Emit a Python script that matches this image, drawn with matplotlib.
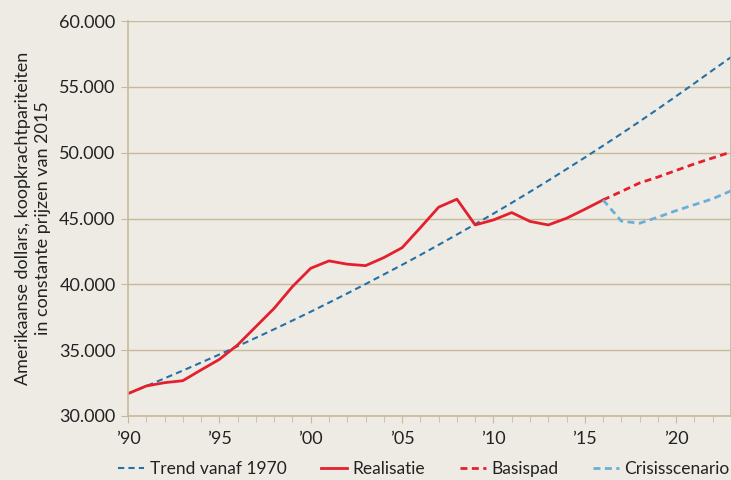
import matplotlib
matplotlib.use("Agg")
import matplotlib.pyplot as plt
from matplotlib.ticker import FuncFormatter, MultipleLocator

# data
years_trend = list(range(1990, 2024))
trend = [31700, 32270, 32860, 33450, 34060, 34670, 35300, 35940, 36590, 37250,
         37920, 38610, 39310, 40020, 40750, 41480, 42230, 43000, 43780, 44570,
         45370, 46190, 47030, 47880, 48750, 49630, 50530, 51440, 52370, 53320,
         54290, 55270, 56270, 57250]

years_real = list(range(1990, 2017))
realisatie = [31700, 32280, 32530, 32680, 33500, 34300, 35400, 36790, 38180, 39830,
              41220, 41780, 41530, 41420, 42030, 42780, 44300, 45860, 46470, 44510,
              44890, 45450, 44780, 44510, 45020, 45700, 46410]

years_scen = list(range(2016, 2024))
basispad = [46410, 47050, 47700, 48150, 48650, 49150, 49600, 50050]
crisis = [46410, 44800, 44640, 45100, 45600, 46050, 46500, 47100]

bg = "#eeebe4"
grid_col = "#c9b99b"
blue = "#2471a8"
red = "#e4202e"
lightblue = "#6aafd8"
txt = "#222222"

plt.rcParams['font.family'] = ['Lato', 'DejaVu Sans']

fig = plt.figure(figsize=(7.31, 4.8), dpi=100, facecolor=bg)
ax = fig.add_axes([128 / 731, 1 - 416 / 480, (731 - 128) / 731, (416 - 21) / 480])
ax.set_facecolor(bg)

ax.plot(years_trend, trend, color=blue, lw=1.5, dashes=(3, 2), label="Trend vanaf 1970")
ax.plot(years_real, realisatie, color=red, lw=2, label="Realisatie")
ax.plot(years_scen, basispad, color=red, lw=2, dashes=(2.5, 1.6), label="Basispad")
ax.plot(years_scen, crisis, color=lightblue, lw=2, dashes=(2.5, 1.6), label="Crisisscenario")

ax.set_xlim(1990, 2023)
ax.set_ylim(30000, 60000)
ax.yaxis.set_major_locator(MultipleLocator(5000))
ax.yaxis.set_major_formatter(FuncFormatter(lambda v, p: f"{int(v):,}".replace(",", ".")))
ax.xaxis.set_major_locator(MultipleLocator(5))
ax.xaxis.set_minor_locator(MultipleLocator(1))
ax.xaxis.set_major_formatter(FuncFormatter(lambda v, p: "\u2019" + f"{int(v) % 100:02d}"))

ax.grid(axis='y', color=grid_col, lw=1)
ax.set_axisbelow(True)
ax.spines['top'].set_visible(False)
for s in ['left', 'bottom', 'right']:
    ax.spines[s].set_color(grid_col)
    ax.spines[s].set_linewidth(1.2)

ax.tick_params(axis='y', which='major', length=5, color=grid_col, labelsize=13, pad=4, labelcolor=txt)
ax.tick_params(axis='x', which='major', length=5, color=grid_col, labelsize=13, pad=6, labelcolor=txt)
ax.tick_params(axis='x', which='minor', length=4, color=grid_col)

ax.set_ylabel("Amerikaanse dollars, koopkrachtpariteiten\nin constante prijzen van 2015",
              fontsize=13, color=txt, labelpad=6, linespacing=1.3)

fig.legend(*ax.get_legend_handles_labels(), loc='center right',
           bbox_to_anchor=(1.0, 1 - 469 / 480), ncol=4, frameon=False,
           fontsize=12.5, handlelength=1.5, handletextpad=0.3, columnspacing=2.0,
           labelcolor=txt, borderaxespad=0, borderpad=0.1)

fig.savefig("out.png", dpi=100, facecolor=bg)
